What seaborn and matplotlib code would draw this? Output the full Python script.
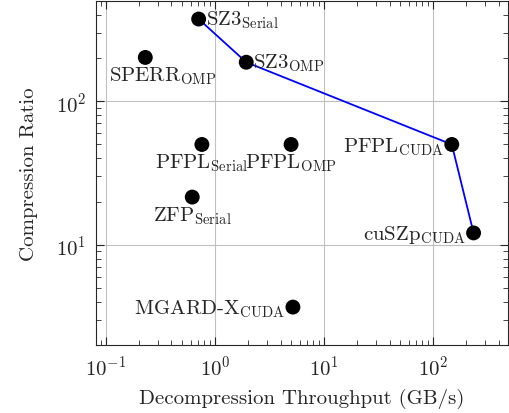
import pandas as pd
import matplotlib.pyplot as plt
import seaborn as sns

# datos
nombres = ["SZ3", "SPERR", "SZ3", "PFPL", "PFPL", "PFPL", "ZFP", "cuSZp", "MGARD-X"]
variantes = ["Serial", "OMP", "OMP", "Serial", "OMP", "CUDA", "Serial", "CUDA", "CUDA"]
throughput = [0.71, 0.23, 1.94, 0.76, 5.0, 149, 0.62, 236, 5.2]
ratio = [374, 202, 187, 50, 50, 50, 21.5, 12.1, 3.68]
frontera = [0, 2, 5, 7]

sns.set_style("ticks")
plt.rcParams['font.family'] = 'serif'
plt.rcParams['font.serif'] = ['cmr10', 'DejaVu Serif']
plt.rcParams['mathtext.fontset'] = 'cm'
plt.rcParams['axes.formatter.use_mathtext'] = True

df = pd.DataFrame({'nombre': nombres, 'variante': variantes,
                   'throughput': throughput, 'ratio': ratio})
df['etiqueta'] = df['nombre'] + r"$_{\mathrm{" + df['variante'] + "}}$"
df_front = df.iloc[frontera]

fig = plt.figure(figsize=(5.1, 4.14), dpi=100)
ax = fig.add_axes([0.188, 0.164, 0.808, 0.831])

sns.lineplot(data=df_front, x='throughput', y='ratio', sort=False, color='blue', linewidth=1.3, ax=ax, zorder=2)
sns.scatterplot(data=df, x='throughput', y='ratio', color='black', s=115, edgecolor='none', ax=ax, zorder=3)

ax.set_xscale('log')
ax.set_yscale('log')
ax.set_xlim(0.081, 488)
ax.set_ylim(2.0, 499)

# posicion de cada etiqueta (offset en puntos)
posiciones = [('left', 'center', 5, 0), ('left', 'top', -26, -5), ('left', 'center', 5, 0),
              ('center', 'top', 0, -5), ('center', 'top', 0, -5), ('right', 'center', -6, -1),
              ('center', 'top', 0, -5), ('right', 'center', -6, -1), ('right', 'center', -6, -1)]
for i, row in df.iterrows():
    ha, va, dx, dy = posiciones[i]
    ax.annotate(row['etiqueta'], (row['throughput'], row['ratio']), xytext=(dx, dy),
                textcoords='offset points', ha=ha, va=va, fontsize=15)

ax.grid(True, which='major', color='#c0c0c0', linewidth=0.8)
ax.tick_params(which='both', direction='in', top=True, right=True, labelsize=15, pad=7)
ax.tick_params(which='major', length=5.5)
ax.tick_params(which='minor', length=3.5)
for s in ax.spines.values():
    s.set_linewidth(0.8)
ax.set_xlabel("Decompression Throughput (GB/s)", fontsize=15, labelpad=6)
ax.set_ylabel("Compression Ratio", fontsize=15, labelpad=13)

plt.savefig("out.png", dpi=100)
